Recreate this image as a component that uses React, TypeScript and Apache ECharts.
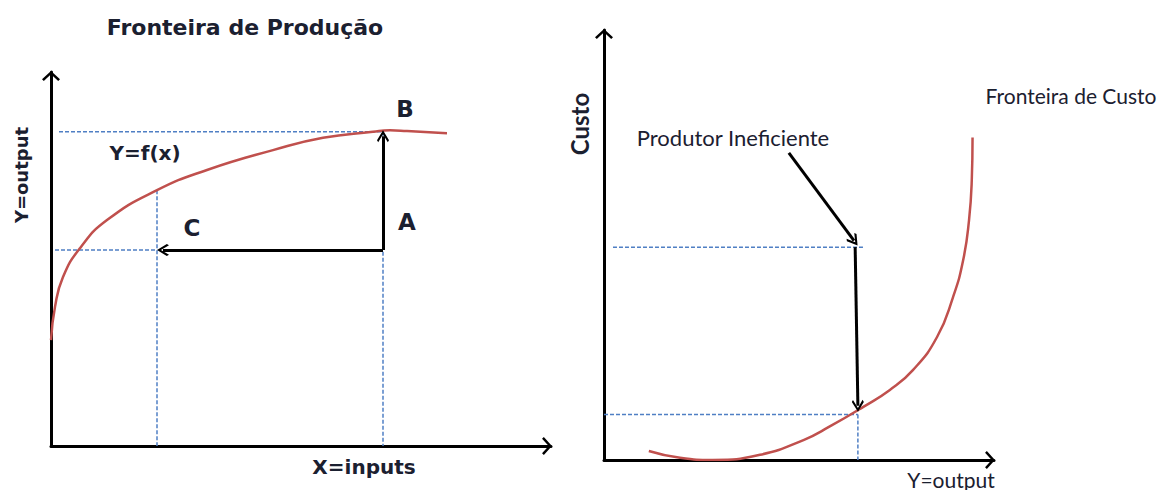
import React, { useEffect, useRef } from "react";
import * as echarts from "echarts";

// Left panel: production frontier (x = inputs, y = output), units 0..100
const prodCurveX = [0, 0.8, 2.4, 5.8, 11.2, 21.2, 31.2, 44.4, 54.4, 64.4, 67.8, 71.2, 79.2];
const prodCurveY = [28.3, 37.2, 45.2, 52.9, 60.4, 68.4, 73.8, 79.1, 82.4, 84.0, 84.4, 84.2, 83.6];
const pointB = [66.4, 84.0];
const pointA = [66.4, 52.4];
const pointC = [21.2, 52.4];

// Right panel: cost frontier (x = output, y = cost), units 0..100
const costCurveX = [11.5, 19.5, 27.9, 40, 51.3, 57.9, 66.4, 73.3, 79.2, 85.4, 89.5, 92.1, 93.6, 94.3, 94.5];
const costCurveY = [2.1, 0.5, 0, 1.2, 4.7, 7.8, 12.3, 16.3, 20.9, 28.6, 37.9, 46.5, 55.8, 65, 75];
const inefficient = [64.4, 49.5];
const efficient = [65.1, 11.4];
const pointerFrom = [47.4, 71.4];

const CHEVRON = "path://M0,0 L10,9 L8,11 L0,3.6 L-8,11 L-10,9 Z";
const RED = "#c0504d";
const BLUE = "#4f7fc4";
const INK = "#1b2030";
const WIDE = "'DejaVu Sans', Verdana, sans-serif";
const NARROW = "Lato, 'Open Sans', sans-serif";

function zip(xs: number[], ys: number[]) {
  return xs.map((x, i) => [x, ys[i]]);
}

function dashed(points: number[][], gridIdx: number) {
  return {
    type: "line",
    xAxisIndex: gridIdx,
    yAxisIndex: gridIdx,
    data: points,
    symbol: "none",
    silent: true,
    lineStyle: { color: BLUE, width: 1.5, type: [4, 2] },
    z: 2,
  };
}

function arrow(from: number[], to: number[], gridIdx: number) {
  return {
    type: "lines",
    coordinateSystem: "cartesian2d",
    xAxisIndex: gridIdx,
    yAxisIndex: gridIdx,
    symbol: ["none", CHEVRON],
    symbolSize: [17, 12],
    silent: true,
    lineStyle: { color: "#000", width: 3, opacity: 1, curveness: 0 },
    data: [{ coords: [from, to] }],
    z: 5,
  };
}

function axisCommon(gridIdx: number) {
  return {
    type: "value",
    gridIndex: gridIdx,
    min: 0,
    max: 100,
    axisLabel: { show: false },
    axisTick: { show: false },
    splitLine: { show: false },
    axisLine: {
      show: true,
      lineStyle: { color: "#000", width: 3 },
      symbol: ["none", CHEVRON],
      symbolSize: [18, 12],
      symbolOffset: [0, -4],
    },
  };
}

function txt(
  text: string,
  x: number,
  y: number,
  size: number,
  bold: boolean,
  family: string,
  extra: Record<string, unknown> = {}
) {
  return {
    type: "text",
    x,
    y,
    silent: true,
    ...extra,
    style: {
      text,
      fill: INK,
      font: `${bold ? "bold " : ""}${size}px ${family}`,
      textAlign: "center",
      textVerticalAlign: "middle",
    },
  };
}

export default function App() {
  const ref = useRef<HTMLDivElement>(null);
  useEffect(() => {
    if (!ref.current) return;
    const chart = echarts.init(ref.current, undefined, { renderer: "svg" });
    chart.setOption({
      animation: false,
      backgroundColor: "#ffffff",
      grid: [
        { left: 51, top: 72, width: 500, height: 374 },
        { left: 604, top: 30, width: 390, height: 430 },
      ],
      xAxis: [axisCommon(0), axisCommon(1)],
      yAxis: [axisCommon(0), axisCommon(1)],
      series: [
        {
          type: "line",
          xAxisIndex: 0,
          yAxisIndex: 0,
          data: zip(prodCurveX, prodCurveY),
          smooth: 0.5,
          symbol: "none",
          silent: true,
          lineStyle: { color: RED, width: 2.5 },
          z: 3,
        },
        dashed([[1.6, pointB[1]], pointB], 0),
        dashed([[0.8, pointC[1]], pointC], 0),
        dashed([[pointC[0], 68.4], [pointC[0], 0]], 0),
        dashed([pointB, [pointB[0], 0]], 0),
        arrow(pointA, [pointB[0], pointB[1] - 1.2], 0),
        arrow(pointA, [pointC[0] + 1.2, pointC[1]], 0),
        {
          type: "line",
          xAxisIndex: 1,
          yAxisIndex: 1,
          data: zip(costCurveX, costCurveY),
          smooth: 0.5,
          symbol: "none",
          silent: true,
          lineStyle: { color: RED, width: 2.5 },
          z: 3,
        },
        dashed([[2.3, inefficient[1]], [66.9, inefficient[1]]], 1),
        dashed([[0, efficient[1] - 0.8], [efficient[0], efficient[1] - 0.8]], 1),
        dashed([[efficient[0], efficient[1] - 0.8], [efficient[0], 0]], 1),
        arrow(pointerFrom, [inefficient[0] - 0.3, inefficient[1] + 1.5], 1),
        arrow(inefficient, [efficient[0], efficient[1] + 1.2], 1),
      ],
      graphic: [
        txt("Fronteira de Produção", 245, 27, 22, true, WIDE),
        txt("Y=output", 21, 175, 18, true, WIDE, { rotation: Math.PI / 2 }),
        txt("Y=f(x)", 145, 153, 20, true, WIDE),
        txt("B", 405, 109, 23, true, WIDE),
        txt("A", 407, 222, 23, true, WIDE),
        txt("C", 192, 228, 23, true, WIDE),
        txt("X=inputs", 364, 467, 20, true, WIDE),
        txt("Custo", 579, 124, 24, true, NARROW, { rotation: Math.PI / 2 }),
        txt("Fronteira de Custo", 1071, 95, 21, false, NARROW),
        txt("Produtor Ineficiente", 733, 137, 22, false, NARROW),
        txt("Y=output", 951, 479, 21, false, NARROW),
      ],
    });
    return () => chart.dispose();
  }, []);
  return (
    <div
      ref={ref}
      style={{ position: "fixed", left: 0, top: 0, width: 1165, height: 490 }}
    />
  );
}
